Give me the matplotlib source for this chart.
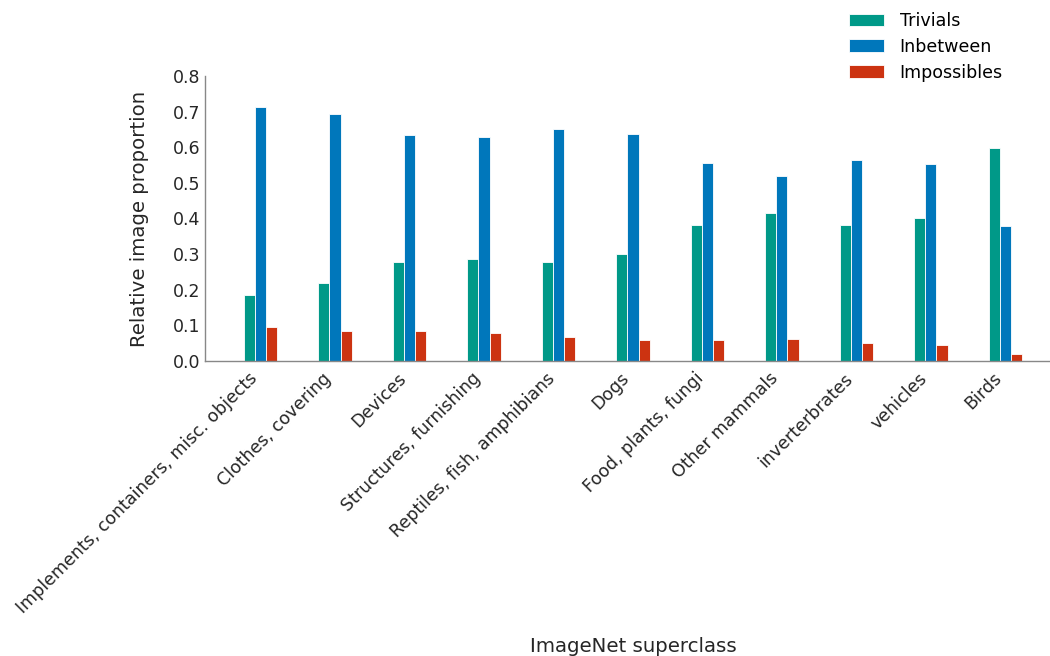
import numpy as np
import matplotlib.pyplot as plt

categories = ["Implements, containers, misc. objects", "Clothes, covering", "Devices",
              "Structures, furnishing", "Reptiles, fish, amphibians", "Dogs",
              "Food, plants, fungi", "Other mammals", "inverterbrates", "vehicles", "Birds"]
trivials = [0.185, 0.220, 0.277, 0.287, 0.278, 0.300, 0.382, 0.415, 0.381, 0.400, 0.598]
inbetween = [0.713, 0.692, 0.635, 0.630, 0.651, 0.637, 0.555, 0.519, 0.565, 0.553, 0.380]
impossibles = [0.095, 0.084, 0.085, 0.079, 0.067, 0.060, 0.060, 0.063, 0.051, 0.045, 0.019]

series = [("Trivials", trivials, "#009988"),
          ("Inbetween", inbetween, "#0077BB"),
          ("Impossibles", impossibles, "#CC3311")]

fig = plt.figure(figsize=(10.5, 6.56), dpi=100)
ax = fig.add_axes([0.195, 0.4497, 0.805, 0.4345])

x = np.arange(len(categories))
w = 0.15
for i, (name, vals, col) in enumerate(series):
    ax.bar(x + (i - 1) * w, vals, w, color=col, edgecolor="white", linewidth=0.6, label=name)

ax.set_xlim(-0.75, len(categories) - 0.4)
ax.set_ylim(0, 0.8)
ax.set_yticks(np.arange(0, 0.81, 0.1))
ax.set_yticklabels([f"{v:.1f}" for v in np.arange(0, 0.81, 0.1)])
ax.set_xticks(x)
ax.set_xticklabels(categories, rotation=45, ha="right")

for s in ["top", "right"]:
    ax.spines[s].set_visible(False)
for s in ["left", "bottom"]:
    ax.spines[s].set_color("#888888")
    ax.spines[s].set_linewidth(1.0)
ax.tick_params(axis="both", labelsize=12.5, colors="#262626", length=0)
ax.tick_params(axis="y", pad=3)
ax.tick_params(axis="x", pad=6)

ax.set_ylabel("Relative image proportion", fontsize=14.2, color="#262626", labelpad=17)
ax.set_xlabel("ImageNet superclass", fontsize=14.2, color="#262626")
ax.xaxis.set_label_coords(633 / 1050, 0.0, transform=fig.transFigure)
ax.xaxis.label.set_va("bottom")

fig.legend(loc="upper right", bbox_to_anchor=(0.97, 1.006), frameon=False, fontsize=12.6,
           handlelength=2.0, handleheight=0.7, labelspacing=0.45, handletextpad=0.9)

fig.savefig("out.png", dpi=100)
